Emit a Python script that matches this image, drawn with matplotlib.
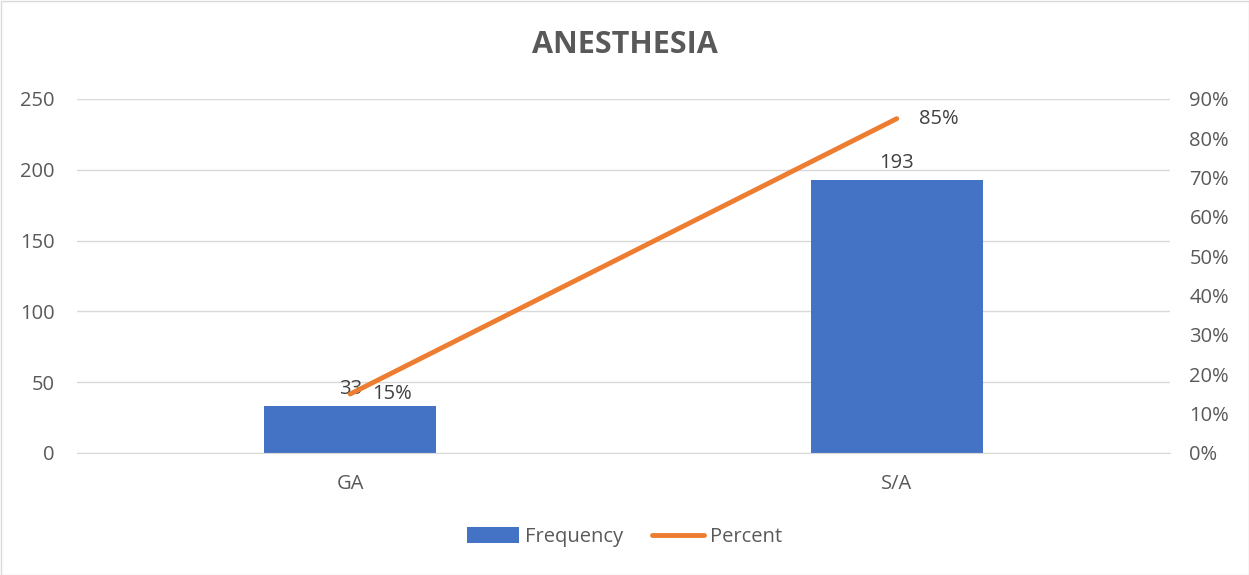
import matplotlib
matplotlib.use("Agg")
import matplotlib.pyplot as plt
from matplotlib.patches import Rectangle

plt.rcParams['font.family'] = ['Open Sans', 'DejaVu Sans']

# ========== 数据 ==========
categories = ["GA", "S/A"]
frequency = [33, 193]
percent = [0.15, 0.85]
freq_labels = ["33", "193"]
pct_labels = ["15%", "85%"]

bar_color = "#4472C4"
line_color = "#ED7D31"
text_gray = "#595959"
grid_gray = "#D9D9D9"
fs = 14.5

fig = plt.figure(figsize=(12.49, 5.75), dpi=100)
ax = fig.add_axes([77 / 1249, 1 - 453 / 575, 1093 / 1249, 354 / 575])
ax2 = ax.twinx()

x = list(range(len(categories)))
ax.bar(x, frequency, width=0.315, color=bar_color, zorder=2, label="Frequency")
ax2.plot(x, percent, color=line_color, lw=3.5, solid_capstyle="round", zorder=3, label="Percent")

ax.set_xlim(-0.5, len(categories) - 0.5)
ax.set_ylim(0, 250)
ax.set_yticks(range(0, 251, 50))
ax2.set_ylim(0, 0.9)
ax2.set_yticks([i / 10 for i in range(10)])
ax2.set_yticklabels([f"{i * 10}%" for i in range(10)])

ax.set_xticks(x)
ax.set_xticklabels(categories)
ax.grid(axis="y", color=grid_gray, lw=1, zorder=0)
for a in (ax, ax2):
    for s in a.spines.values():
        s.set_visible(False)
    a.tick_params(length=0, colors=text_gray, labelsize=fs)
ax.spines["bottom"].set_visible(True)
ax.spines["bottom"].set_color(grid_gray)
ax.tick_params(axis="y", pad=16)
ax2.tick_params(axis="y", pad=14)
ax.tick_params(axis="x", pad=15)
ax.set_zorder(ax2.get_zorder() - 1)
ax.patch.set_visible(False)

# 数据标签
for xi, v, lab in zip(x, frequency, freq_labels):
    ax.annotate(lab, (xi, v), xytext=(0, 5), textcoords="offset points",
                ha="center", va="bottom", fontsize=fs, color="#404040")
for xi, p, lab in zip(x, percent, pct_labels):
    ax2.annotate(lab, (xi, p), xytext=(16, 0), textcoords="offset points",
                 ha="left", va="center", fontsize=fs, color="#404040")

fig.suptitle("ANESTHESIA", y=1 - 45 / 575, va="center", fontsize=22,
             fontweight="bold", color=text_gray)

h1, l1 = ax.get_legend_handles_labels()
h2, l2 = ax2.get_legend_handles_labels()
fig.legend(h1 + h2, l1 + l2, loc="center", bbox_to_anchor=(0.5, 1 - 537 / 575),
           ncol=2, frameon=False, fontsize=fs, labelcolor=text_gray,
           handlelength=2.6, handleheight=0.8, handletextpad=0.3, columnspacing=1.4)

fig.patches.append(Rectangle((0.5 / 1249, 0.5 / 575), 1 - 1 / 1249, 1 - 1 / 575,
                             transform=fig.transFigure, fill=False,
                             edgecolor=grid_gray, lw=1))

fig.savefig("out.png", dpi=100)
